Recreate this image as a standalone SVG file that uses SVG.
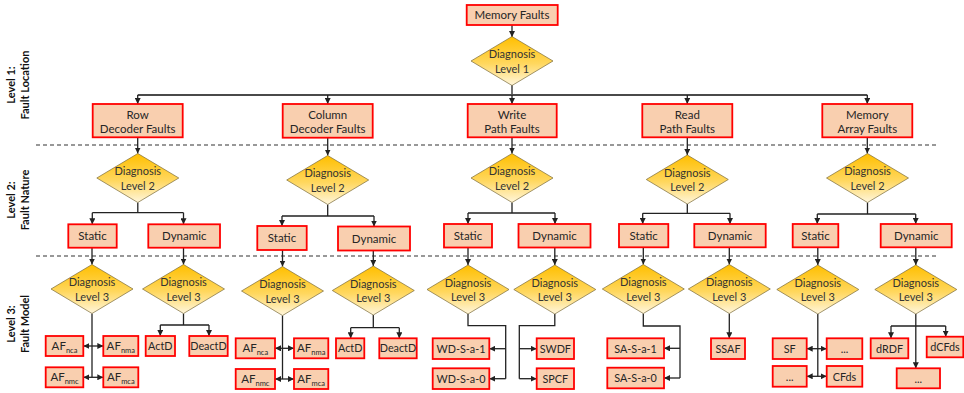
<svg xmlns="http://www.w3.org/2000/svg" xmlns:xlink="http://www.w3.org/1999/xlink" width="964" height="393" viewBox="0 0 964 393">
  <style>
    .box { fill: #F9CFAF; stroke: #FF0000; stroke-width: 1.8; }
    .dia { stroke: #7a6a3a; stroke-width: 0.7; }
    text { font-family: Lato, "Liberation Sans", sans-serif; font-size: 11.5px; fill: #262626; text-anchor: middle; }
    .dt { fill: #333; font-size: 11px; }
    .sm { font-size: 10.8px; }
    .sub { font-size: 7.5px; }
    .lvl { font-weight: bold; font-size: 11px; fill: #111; }
    .ln { fill: none; stroke: #222; stroke-width: 1.3; }
    .top { fill: none; stroke: #4a4a4a; stroke-width: 2; }
    .dash { fill: none; stroke: #777; stroke-width: 1.5; stroke-dasharray: 4 3; }
  </style>
  <defs>
    <linearGradient id="gold" x1="0" y1="0" x2="0" y2="1">
      <stop offset="0" stop-color="#FFBF00"/>
      <stop offset="0.55" stop-color="#FFD75E"/>
      <stop offset="1" stop-color="#FFF6DC"/>
    </linearGradient>
    <polygon id="d" class="dia" fill="url(#gold)" points="0,-24.5 41,0 0,24.5 -41,0"/>
    <marker id="ah" viewBox="0 0 10 10" refX="10" refY="5" markerWidth="6" markerHeight="6" markerUnits="userSpaceOnUse" orient="auto-start-reverse">
      <path d="M0,0 L10,5 L0,10 z" fill="#222"/>
    </marker>
  </defs>

  <!-- level separators -->
  <g id="separators">
    <line class="dash" x1="36" y1="145" x2="936" y2="145"/>
    <line class="dash" x1="36" y1="256" x2="936" y2="256"/>
  </g>

  <!-- level captions -->
  <g id="captions">
    <g transform="translate(0,85) rotate(-90)">
      <text class="lvl" x="0" y="15">Level 1:</text>
      <text class="lvl" x="0" y="29">Fault Location</text>
    </g>
    <g transform="translate(0,200) rotate(-90)">
      <text class="lvl" x="0" y="15">Level 2:</text>
      <text class="lvl" x="0" y="29">Fault Nature</text>
    </g>
    <g transform="translate(0,324) rotate(-90)">
      <text class="lvl" x="0" y="15">Level 3:</text>
      <text class="lvl" x="0" y="29">Fault Model</text>
    </g>
  </g>

  <!-- connectors -->
  <g id="connectors">
    <path class="ln" marker-end="url(#ah)" d="M512,25 V37"/>
    <path class="ln" d="M512,85 V95"/>
    <path class="top" d="M137.7,95 H867.3"/>
    <path class="ln" marker-end="url(#ah)" d="M137.7,95 V104"/>
    <path class="ln" marker-end="url(#ah)" d="M327.7,95 V104"/>
    <path class="ln" marker-end="url(#ah)" d="M512,95 V104"/>
    <path class="ln" marker-end="url(#ah)" d="M687.3,95 V104"/>
    <path class="ln" marker-end="url(#ah)" d="M867.3,95 V104"/>

    <!-- level 1 to level 2 -->
    <path class="ln" marker-end="url(#ah)" d="M137.7,137 V153.5"/>
    <path class="ln" marker-end="url(#ah)" d="M327.7,137.7 V155.5"/>
    <path class="ln" marker-end="url(#ah)" d="M512,137.3 V153.5"/>
    <path class="ln" marker-end="url(#ah)" d="M687.3,137.3 V155"/>
    <path class="ln" marker-end="url(#ah)" d="M867.3,137.3 V153.5"/>

    <!-- level 2 branches -->
    <path class="ln" d="M137.8,202.5 V212.7 M92.3,212.7 H183.5"/>
    <path class="ln" marker-end="url(#ah)" d="M92.3,212.7 V224.3"/>
    <path class="ln" marker-end="url(#ah)" d="M183.5,212.7 V224.3"/>
    <path class="ln" d="M327.7,204.5 V216 M282,216 H374"/>
    <path class="ln" marker-end="url(#ah)" d="M282,216 V226"/>
    <path class="ln" marker-end="url(#ah)" d="M374,216 V226.5"/>
    <path class="ln" d="M512,202.5 V213 M468,213 H555"/>
    <path class="ln" marker-end="url(#ah)" d="M468,213 V224"/>
    <path class="ln" marker-end="url(#ah)" d="M555,213 V224"/>
    <path class="ln" d="M687.3,204 V213.3 M642.7,213.3 H730"/>
    <path class="ln" marker-end="url(#ah)" d="M642.7,213.3 V224"/>
    <path class="ln" marker-end="url(#ah)" d="M730,213.3 V224"/>
    <path class="ln" d="M867.5,202.5 V214 M817.3,214 H915.7"/>
    <path class="ln" marker-end="url(#ah)" d="M817.3,214 V224"/>
    <path class="ln" marker-end="url(#ah)" d="M915.7,214 V224"/>

    <!-- level 2 to level 3 -->
    <path class="ln" marker-end="url(#ah)" d="M92,247.7 V264.5"/>
    <path class="ln" marker-end="url(#ah)" d="M183.5,247.7 V264.5"/>
    <path class="ln" marker-end="url(#ah)" d="M282.5,250 V266.5"/>
    <path class="ln" marker-end="url(#ah)" d="M373.3,250.5 V266"/>
    <path class="ln" marker-end="url(#ah)" d="M468,247.5 V265"/>
    <path class="ln" marker-end="url(#ah)" d="M554.8,247.5 V265"/>
    <path class="ln" marker-end="url(#ah)" d="M643.3,247.3 V264.5"/>
    <path class="ln" marker-end="url(#ah)" d="M729.3,247.3 V264.5"/>
    <path class="ln" marker-end="url(#ah)" d="M817.8,247.3 V265"/>
    <path class="ln" marker-end="url(#ah)" d="M915.8,247.3 V265"/>

    <!-- row decoder models -->
    <path class="ln" d="M92,313.5 V377.3"/>
    <path class="ln" marker-start="url(#ah)" marker-end="url(#ah)" d="M83.3,346 H103.3"/>
    <path class="ln" marker-start="url(#ah)" marker-end="url(#ah)" d="M83.3,377.3 H103.3"/>
    <path class="ln" d="M183.5,313.5 V325 M160.3,325 H209"/>
    <path class="ln" marker-end="url(#ah)" d="M160.3,325 V336"/>
    <path class="ln" marker-end="url(#ah)" d="M209,325 V336"/>

    <!-- column decoder models -->
    <path class="ln" d="M282.5,315.5 V379"/>
    <path class="ln" marker-start="url(#ah)" marker-end="url(#ah)" d="M275,348.3 H294"/>
    <path class="ln" marker-start="url(#ah)" marker-end="url(#ah)" d="M275,379 H294"/>
    <path class="ln" d="M373.3,315 V327.7 M350.7,327.7 H399.3"/>
    <path class="ln" marker-end="url(#ah)" d="M350.7,327.7 V338.3"/>
    <path class="ln" marker-end="url(#ah)" d="M399.3,327.7 V338.3"/>

    <!-- write path models -->
    <path class="ln" d="M468,314 V325.7 H505.7 V378.7"/>
    <path class="ln" marker-end="url(#ah)" d="M505.7,348.7 H489.3"/>
    <path class="ln" marker-end="url(#ah)" d="M505.7,378.7 H489.3"/>
    <path class="ln" d="M554.8,314 V325.7 H519.3 V378.7"/>
    <path class="ln" marker-end="url(#ah)" d="M519.3,348.7 H536.7"/>
    <path class="ln" marker-end="url(#ah)" d="M519.3,378.7 H536.7"/>

    <!-- read path models -->
    <path class="ln" d="M643.3,313.5 V326 H680 V378"/>
    <path class="ln" marker-end="url(#ah)" d="M680,348.3 H664"/>
    <path class="ln" marker-end="url(#ah)" d="M680,378 H664"/>
    <path class="ln" marker-end="url(#ah)" d="M729.3,313.5 V338.3"/>

    <!-- memory array models -->
    <path class="ln" d="M817.8,314 V376.3"/>
    <path class="ln" marker-start="url(#ah)" marker-end="url(#ah)" d="M806.7,348.7 H826.7"/>
    <path class="ln" marker-start="url(#ah)" marker-end="url(#ah)" d="M806.7,376.3 H826.7"/>
    <path class="ln" d="M915.8,314 V326 M891,326 H945.7"/>
    <path class="ln" marker-end="url(#ah)" d="M891,326 V338.3"/>
    <path class="ln" marker-end="url(#ah)" d="M945.7,326 V336.7"/>
    <path class="ln" marker-end="url(#ah)" d="M915.8,326 V368.3"/>
  </g>

  <!-- root -->
  <g id="memory-faults">
    <rect class="box" x="466.7" y="5" width="91" height="20"/>
    <text x="512" y="19.3">Memory Faults</text>
  </g>
  <g id="diag-l1">
    <use xlink:href="#d" x="512" y="61"/>
    <text class="dt" x="512" y="58">Diagnosis</text>
    <text class="dt" x="512" y="72.5">Level 1</text>
  </g>

  <!-- level 1: fault location -->
  <g id="row-decoder">
    <rect class="box" x="92.7" y="104" width="90" height="33.3"/>
    <text x="137.7" y="118.5">Row</text>
    <text x="137.7" y="133">Decoder Faults</text>
  </g>
  <g id="column-decoder">
    <rect class="box" x="282.7" y="104" width="90" height="33.7"/>
    <text x="327.7" y="118.5">Column</text>
    <text x="327.7" y="133">Decoder Faults</text>
  </g>
  <g id="write-path">
    <rect class="box" x="467.7" y="104" width="89" height="33.3"/>
    <text x="512" y="118.5">Write</text>
    <text x="512" y="133">Path Faults</text>
  </g>
  <g id="read-path">
    <rect class="box" x="642.3" y="104" width="90" height="33.3"/>
    <text x="687.3" y="118.5">Read</text>
    <text x="687.3" y="133">Path Faults</text>
  </g>
  <g id="memory-array">
    <rect class="box" x="822.3" y="104" width="90" height="33.3"/>
    <text x="867.3" y="118.5">Memory</text>
    <text x="867.3" y="133">Array Faults</text>
  </g>

  <!-- level 2: fault nature -->
  <g id="diag-l2-row">
    <use xlink:href="#d" x="137.8" y="178"/>
    <text class="dt" x="137.8" y="175">Diagnosis</text>
    <text class="dt" x="137.8" y="189.5">Level 2</text>
  </g>
  <g id="diag-l2-col">
    <use xlink:href="#d" x="327.7" y="180"/>
    <text class="dt" x="327.7" y="177">Diagnosis</text>
    <text class="dt" x="327.7" y="191.5">Level 2</text>
  </g>
  <g id="diag-l2-write">
    <use xlink:href="#d" x="512" y="178"/>
    <text class="dt" x="512" y="175">Diagnosis</text>
    <text class="dt" x="512" y="189.5">Level 2</text>
  </g>
  <g id="diag-l2-read">
    <use xlink:href="#d" x="687.3" y="179.5"/>
    <text class="dt" x="687.3" y="176.5">Diagnosis</text>
    <text class="dt" x="687.3" y="191">Level 2</text>
  </g>
  <g id="diag-l2-array">
    <use xlink:href="#d" x="867.5" y="178"/>
    <text class="dt" x="867.5" y="175">Diagnosis</text>
    <text class="dt" x="867.5" y="189.5">Level 2</text>
  </g>

  <g id="row-static">
    <rect class="box" x="68.3" y="224.3" width="48.4" height="23.4"/>
    <text x="92.5" y="240">Static</text>
  </g>
  <g id="row-dynamic">
    <rect class="box" x="148.3" y="224.3" width="71.7" height="23.4"/>
    <text x="184.2" y="240">Dynamic</text>
  </g>
  <g id="col-static">
    <rect class="box" x="257.3" y="226" width="49.4" height="24"/>
    <text x="282" y="242">Static</text>
  </g>
  <g id="col-dynamic">
    <rect class="box" x="338" y="226.5" width="72" height="24"/>
    <text x="374" y="242.5">Dynamic</text>
  </g>
  <g id="write-static">
    <rect class="box" x="444" y="224" width="48" height="23.5"/>
    <text x="468" y="240">Static</text>
  </g>
  <g id="write-dynamic">
    <rect class="box" x="518.5" y="224" width="72" height="23.5"/>
    <text x="554.5" y="240">Dynamic</text>
  </g>
  <g id="read-static">
    <rect class="box" x="619" y="224" width="49.3" height="23.3"/>
    <text x="643.6" y="239.8">Static</text>
  </g>
  <g id="read-dynamic">
    <rect class="box" x="694.3" y="224" width="71.4" height="23.3"/>
    <text x="730" y="239.8">Dynamic</text>
  </g>
  <g id="array-static">
    <rect class="box" x="792.7" y="224" width="45.6" height="23.3"/>
    <text x="815.5" y="239.8">Static</text>
  </g>
  <g id="array-dynamic">
    <rect class="box" x="880.7" y="224" width="71" height="23.3"/>
    <text x="916.2" y="239.8">Dynamic</text>
  </g>

  <!-- level 3: fault model -->
  <g id="diag-l3-row-static">
    <use xlink:href="#d" x="92" y="289"/>
    <text class="dt" x="92" y="286">Diagnosis</text>
    <text class="dt" x="92" y="300.5">Level 3</text>
  </g>
  <g id="diag-l3-row-dynamic">
    <use xlink:href="#d" x="183.5" y="289"/>
    <text class="dt" x="183.5" y="286">Diagnosis</text>
    <text class="dt" x="183.5" y="300.5">Level 3</text>
  </g>
  <g id="diag-l3-col-static">
    <use xlink:href="#d" x="282.5" y="291"/>
    <text class="dt" x="282.5" y="288">Diagnosis</text>
    <text class="dt" x="282.5" y="302.5">Level 3</text>
  </g>
  <g id="diag-l3-col-dynamic">
    <use xlink:href="#d" x="373.3" y="290.5"/>
    <text class="dt" x="373.3" y="287.5">Diagnosis</text>
    <text class="dt" x="373.3" y="302">Level 3</text>
  </g>
  <g id="diag-l3-write-static">
    <use xlink:href="#d" x="468" y="289.5"/>
    <text class="dt" x="468" y="286.5">Diagnosis</text>
    <text class="dt" x="468" y="301">Level 3</text>
  </g>
  <g id="diag-l3-write-dynamic">
    <use xlink:href="#d" x="554.8" y="289.5"/>
    <text class="dt" x="554.8" y="286.5">Diagnosis</text>
    <text class="dt" x="554.8" y="301">Level 3</text>
  </g>
  <g id="diag-l3-read-static">
    <use xlink:href="#d" x="643.3" y="289"/>
    <text class="dt" x="643.3" y="286">Diagnosis</text>
    <text class="dt" x="643.3" y="300.5">Level 3</text>
  </g>
  <g id="diag-l3-read-dynamic">
    <use xlink:href="#d" x="729.3" y="289"/>
    <text class="dt" x="729.3" y="286">Diagnosis</text>
    <text class="dt" x="729.3" y="300.5">Level 3</text>
  </g>
  <g id="diag-l3-array-static">
    <use xlink:href="#d" x="817.8" y="289.5"/>
    <text class="dt" x="817.8" y="286.5">Diagnosis</text>
    <text class="dt" x="817.8" y="301">Level 3</text>
  </g>
  <g id="diag-l3-array-dynamic">
    <use xlink:href="#d" x="915.8" y="289.5"/>
    <text class="dt" x="915.8" y="286.5">Diagnosis</text>
    <text class="dt" x="915.8" y="301">Level 3</text>
  </g>

  <!-- row decoder fault models -->
  <g id="row-afnca">
    <rect class="box" x="45.7" y="336" width="37.6" height="20"/>
    <text x="64.5" y="350">AF<tspan class="sub" dy="2.5">nca</tspan></text>
  </g>
  <g id="row-afnma">
    <rect class="box" x="103.3" y="336" width="35" height="20"/>
    <text x="120.8" y="350">AF<tspan class="sub" dy="2.5">nma</tspan></text>
  </g>
  <g id="row-afnmc">
    <rect class="box" x="45.7" y="367.3" width="37.6" height="20"/>
    <text x="64.5" y="381.3">AF<tspan class="sub" dy="2.5">nmc</tspan></text>
  </g>
  <g id="row-afmca">
    <rect class="box" x="103.3" y="367.3" width="35" height="20"/>
    <text x="120.8" y="381.3">AF<tspan class="sub" dy="2.5">mca</tspan></text>
  </g>
  <g id="row-actd">
    <rect class="box" x="145.7" y="336" width="29.3" height="20"/>
    <text class="sm" x="160.3" y="350">ActD</text>
  </g>
  <g id="row-deactd">
    <rect class="box" x="189.3" y="336" width="38.4" height="20"/>
    <text class="sm" x="208.5" y="350">DeactD</text>
  </g>

  <!-- column decoder fault models -->
  <g id="col-afnca">
    <rect class="box" x="235.7" y="338.3" width="39.3" height="20"/>
    <text x="255.3" y="352.3">AF<tspan class="sub" dy="2.5">nca</tspan></text>
  </g>
  <g id="col-afnma">
    <rect class="box" x="294" y="338.3" width="34.3" height="20"/>
    <text x="311.2" y="352.3">AF<tspan class="sub" dy="2.5">nma</tspan></text>
  </g>
  <g id="col-afnmc">
    <rect class="box" x="235.7" y="369" width="39.3" height="20"/>
    <text x="255.3" y="383">AF<tspan class="sub" dy="2.5">nmc</tspan></text>
  </g>
  <g id="col-afmca">
    <rect class="box" x="294" y="369" width="34.3" height="20"/>
    <text x="311.2" y="383">AF<tspan class="sub" dy="2.5">mca</tspan></text>
  </g>
  <g id="col-actd">
    <rect class="box" x="336" y="338.3" width="28.3" height="20"/>
    <text class="sm" x="350.2" y="352.3">ActD</text>
  </g>
  <g id="col-deactd">
    <rect class="box" x="379.3" y="338.3" width="37.4" height="20"/>
    <text class="sm" x="398" y="352.3">DeactD</text>
  </g>

  <!-- write path fault models -->
  <g id="wd-sa1">
    <rect class="box" x="432.7" y="338.3" width="56.6" height="20.7"/>
    <text class="sm" x="461" y="352.8">WD-S-a-1</text>
  </g>
  <g id="wd-sa0">
    <rect class="box" x="432.7" y="368.3" width="56.6" height="20.7"/>
    <text class="sm" x="461" y="382.8">WD-S-a-0</text>
  </g>
  <g id="swdf">
    <rect class="box" x="536.7" y="338.3" width="37.3" height="20.7"/>
    <text class="sm" x="555.3" y="352.8">SWDF</text>
  </g>
  <g id="spcf">
    <rect class="box" x="536.7" y="368.3" width="37.3" height="20.7"/>
    <text class="sm" x="555.3" y="382.8">SPCF</text>
  </g>

  <!-- read path fault models -->
  <g id="sa-sa1">
    <rect class="box" x="607.3" y="338.3" width="56.7" height="20"/>
    <text class="sm" x="635.6" y="352.5">SA-S-a-1</text>
  </g>
  <g id="sa-sa0">
    <rect class="box" x="607.3" y="367.7" width="56.7" height="20.6"/>
    <text class="sm" x="635.6" y="382.2">SA-S-a-0</text>
  </g>
  <g id="ssaf">
    <rect class="box" x="711" y="338.3" width="34" height="20.7"/>
    <text class="sm" x="728" y="352.8">SSAF</text>
  </g>

  <!-- memory array fault models -->
  <g id="sf">
    <rect class="box" x="772.7" y="338.3" width="34" height="20.7"/>
    <text class="sm" x="789.7" y="352.8">SF</text>
  </g>
  <g id="array-static-more">
    <rect class="box" x="826.7" y="338.3" width="35.6" height="20.7"/>
    <text class="sm" x="844.5" y="352.8">...</text>
  </g>
  <g id="array-static-more-2">
    <rect class="box" x="772.7" y="366" width="34" height="20.7"/>
    <text class="sm" x="789.7" y="380.5">...</text>
  </g>
  <g id="cfds">
    <rect class="box" x="826.7" y="366" width="35.6" height="20.7"/>
    <text class="sm" x="844.5" y="380.5">CFds</text>
  </g>
  <g id="drdf">
    <rect class="box" x="870.7" y="338.3" width="37.6" height="20"/>
    <text class="sm" x="889.5" y="352.5">dRDF</text>
  </g>
  <g id="dcfds">
    <rect class="box" x="926.7" y="336.7" width="36.6" height="20.6"/>
    <text class="sm" x="945" y="351">dCFds</text>
  </g>
  <g id="array-dynamic-more">
    <rect class="box" x="896.7" y="368.3" width="43.3" height="20"/>
    <text class="sm" x="918.3" y="382.5">...</text>
  </g>
</svg>
